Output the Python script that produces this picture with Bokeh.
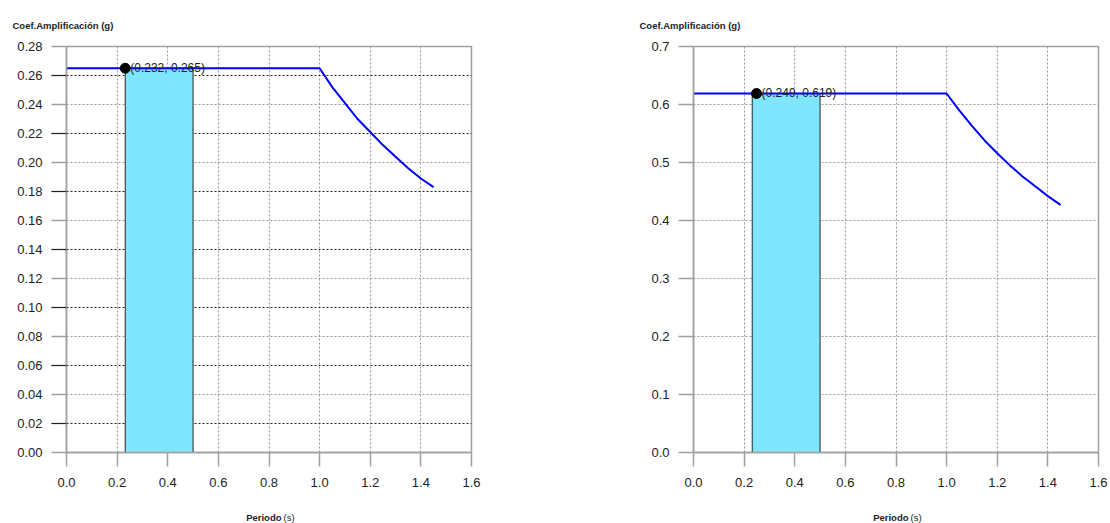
from bokeh.plotting import figure
from bokeh.layouts import row
from bokeh.models import Range1d, FixedTicker, Label, Grid, NumeralTickFormatter
from bokeh.embed import file_html
from bokeh.resources import INLINE
from bokeh.core.properties import value

# ---------------- data ----------------
periods = [0.0, 1.0, 1.05, 1.1, 1.15, 1.2, 1.25, 1.3, 1.35, 1.4, 1.45]
coef_left = [0.265, 0.265, 0.252, 0.241, 0.230, 0.221, 0.212, 0.204, 0.196, 0.189, 0.183]
coef_right = [0.619, 0.619, 0.590, 0.563, 0.538, 0.516, 0.495, 0.476, 0.459, 0.442, 0.427]

band_start = 0.232
band_end = 0.5

point_left_x, point_left_y = [0.232], [0.265]
point_right_x, point_right_y = [0.249], [0.619]

x_ticks = [0.0, 0.2, 0.4, 0.6, 0.8, 1.0, 1.2, 1.4, 1.6]
y_ticks_left = [0.00, 0.02, 0.04, 0.06, 0.08, 0.10, 0.12, 0.14, 0.16, 0.18,
                0.20, 0.22, 0.24, 0.26, 0.28]
y_dark_left = [0.02, 0.06, 0.10, 0.14, 0.18, 0.22, 0.26]
y_ticks_right = [0.0, 0.1, 0.2, 0.3, 0.4, 0.5, 0.6, 0.7]
y_dark_right = []

y_title = "Coef.Amplificación (g)"
x_title_bold = "Periodo"
x_title_unit = "(s)"

FONT = "Liberation Sans"
GREY = "#a0a0a0"
TXT = "#222222"


def make_chart(coef, y_ticks, y_dark, y_fmt, px, py, width, border_left, border_right):
    p = figure(width=width, height=523, output_backend="svg", toolbar_location=None,
               x_range=Range1d(0, x_ticks[-1]), y_range=Range1d(0, y_ticks[-1]),
               min_border_left=border_left, min_border_right=border_right,
               min_border_top=46, min_border_bottom=71)
    p.outline_line_color = GREY
    p.outline_line_width = 1.5

    # title (y quantity)
    p.title.text = y_title
    p.title.align = "left"
    p.title.offset = -54
    p.title.standoff = 32
    p.title.text_font = FONT
    p.title.text_font_size = "9.5px"
    p.title.text_font_style = "bold"
    p.title.text_color = TXT

    # axes
    for ax in (p.xaxis[0], p.yaxis[0]):
        ax.axis_line_color = GREY
        ax.axis_line_width = 1.5
        ax.major_tick_line_color = GREY
        ax.major_tick_line_width = 1.5
        ax.major_tick_in = 0
        ax.minor_tick_in = 0
        ax.major_label_text_font = FONT
        ax.major_label_text_font_size = "13px"
        ax.major_label_text_color = TXT
    p.xaxis.ticker = FixedTicker(ticks=x_ticks)
    p.xaxis.formatter = NumeralTickFormatter(format="0.0")
    p.xaxis.major_tick_out = 14
    p.xaxis.minor_tick_out = 0
    p.xaxis.major_label_standoff = 11

    p.yaxis.ticker = FixedTicker(ticks=y_ticks, minor_ticks=y_dark)
    p.yaxis.formatter = NumeralTickFormatter(format=y_fmt)
    p.yaxis.major_tick_out = 15
    p.yaxis.minor_tick_out = 15 if y_dark else 0
    p.yaxis.minor_tick_line_color = TXT
    p.yaxis.minor_tick_line_width = 1.2
    p.yaxis.major_label_standoff = 9

    # grids
    p.xgrid.ticker = FixedTicker(ticks=x_ticks[1:-1])
    p.xgrid.grid_line_color = "#9a9a9a"
    p.xgrid.grid_line_dash = "2 2"
    p.xgrid.grid_line_width = 1
    grey_rows = [t for t in y_ticks[1:-1] if t not in y_dark]
    p.ygrid.ticker = FixedTicker(ticks=grey_rows)
    p.ygrid.grid_line_color = "#9a9a9a"
    p.ygrid.grid_line_dash = "2 2"
    p.ygrid.grid_line_width = 1
    if y_dark:
        p.add_layout(Grid(dimension=1, ticker=FixedTicker(ticks=y_dark),
                          grid_line_color=TXT, grid_line_dash="2 2",
                          grid_line_width=1))

    # band
    p.quad(left=[band_start], right=[band_end], bottom=[0], top=[coef[0]],
           fill_color="#80e5ff", line_color=TXT, line_width=1)
    # spectrum
    p.line(periods, coef, line_color="#0000ff", line_width=2)
    # point + label
    p.scatter(px, py, size=10, color="black")
    p.text(px, py, text=[f"({px[0]:.3f}, {py[0]:.3f})"], x_offset=5,
           text_baseline="middle", text_font=value(FONT), text_font_size="12px",
           text_color=TXT)

    # x quantity label (bold name + regular unit), in panels below the axis
    p.add_layout(Label(x=215, y=-17, x_units="screen", y_units="screen", text=x_title_bold,
                       text_font=FONT, text_font_size="9.5px", text_font_style="bold",
                       text_align="right", text_baseline="middle", text_color=TXT),
                 "below")
    p.add_layout(Label(x=217, y=-6, x_units="screen", y_units="screen", text=x_title_unit,
                       text_font=FONT, text_font_size="9.5px",
                       text_align="left", text_baseline="middle", text_color=TXT),
                 "below")
    return p


left = make_chart(coef_left, y_ticks_left, y_dark_left, "0.00",
                  point_left_x, point_left_y, 633, 66, 162)
right = make_chart(coef_right, y_ticks_right, y_dark_right, "0.0",
                   point_right_x, point_right_y, 477, 60, 12)

layout = row(left, right)
open("out.html", "w").write(file_html(layout, INLINE))
